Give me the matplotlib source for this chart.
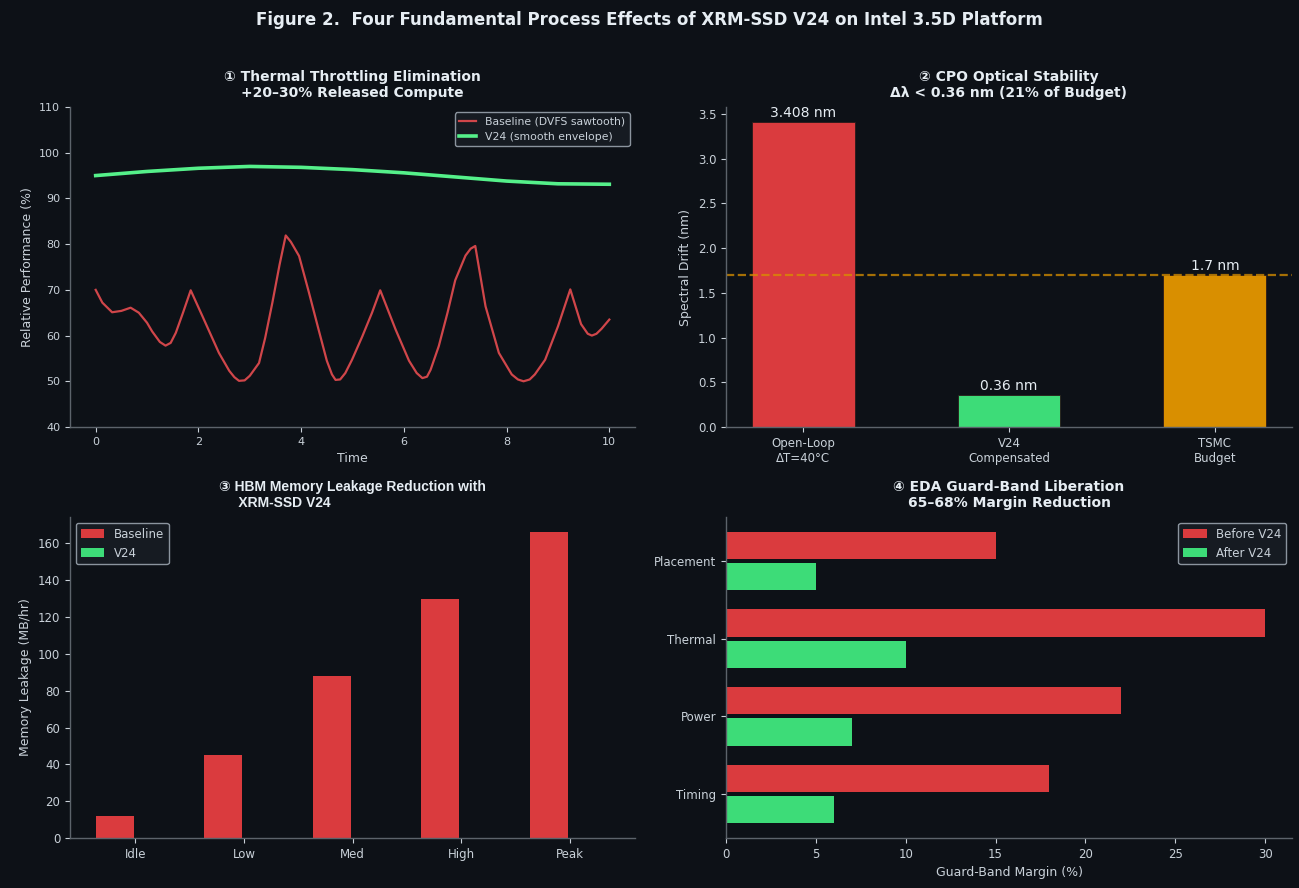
import matplotlib
matplotlib.use("Agg")
import matplotlib.pyplot as plt
import numpy as np

# ---------------- data ----------------
time_base = [0, 0.13, 0.32, 0.5, 0.68, 0.84, 1.0, 1.10, 1.25, 1.36, 1.46, 1.56, 1.70, 1.85,
             2.08, 2.40, 2.60, 2.70, 2.79, 2.90, 3.0, 3.18, 3.30, 3.44, 3.58, 3.70, 3.80,
             3.96, 4.15, 4.34, 4.50, 4.60, 4.67, 4.76, 4.86, 4.99, 5.19, 5.38, 5.54, 5.84,
             6.10, 6.25, 6.36, 6.45, 6.52, 6.68, 6.85, 7.00, 7.20, 7.30, 7.39, 7.59, 7.85,
             8.10, 8.22, 8.33, 8.45, 8.55, 8.75, 9.0, 9.24, 9.45, 9.58, 9.66, 9.75, 9.85, 10.0]
perf_base = [70.0, 67.2, 65.1, 65.4, 66.1, 65.0, 62.8, 60.9, 58.6, 57.8, 58.4, 60.6, 65.0, 69.9,
             64.2, 56.2, 52.3, 50.9, 50.1, 50.2, 51.2, 54.0, 59.5, 67.2, 75.5, 81.9, 80.5,
             77.4, 69.5, 61.3, 54.5, 51.5, 50.3, 50.4, 51.8, 54.7, 59.8, 65.0, 69.9, 61.3,
             54.5, 51.8, 50.7, 51.0, 52.5, 57.7, 65.0, 72.1, 77.5, 79.0, 79.6, 66.4, 56.2,
             51.5, 50.4, 50.0, 50.4, 51.5, 54.7, 62.0, 70.1, 62.5, 60.4, 60.0, 60.4, 61.5, 63.5]
time_v24 = [0, 1, 2, 3, 4, 5, 6, 7, 8, 9, 10]
perf_v24 = [95.0, 95.9, 96.6, 97.0, 96.8, 96.3, 95.6, 94.7, 93.8, 93.2, 93.1]

cpo_labels = ["Open-Loop\nΔT=40°C", "V24\nCompensated", "TSMC\nBudget"]
cpo_values = [3.408, 0.36, 1.7]
cpo_text = ["3.408 nm", "0.36 nm", "1.7 nm"]
budget_line = 1.7

hbm_loads = ["Idle", "Low", "Med", "High", "Peak"]
hbm_baseline = [12, 45, 88, 130, 166]
hbm_v24 = [0, 0, 0, 0, 0]

eda_cats = ["Timing", "Power", "Thermal", "Placement"]
eda_before = [18, 22, 30, 15]
eda_after = [6, 7, 10, 5]

# ---------------- style ----------------
BG = "#0d1117"
TXT = "#e6edf3"
TICK = "#c9d1d9"
SPINE = "#5c636b"
RED = "#da3b3e"
GREEN = "#3ddc78"
ORANGE = "#d98f00"
LINE_RED = "#d0464a"
LINE_GREEN = "#55f08a"

plt.rcParams["font.family"] = ["DejaVu Sans"]

W, H = 1299, 888
fig = plt.figure(figsize=(W / 100, H / 100), dpi=100, facecolor=BG)


def add_ax(x0, y0, x1, y1):
    return fig.add_axes([x0 / W, 1 - y1 / H, (x1 - x0) / W, (y1 - y0) / H])


def style(ax):
    ax.set_facecolor(BG)
    for s in ("top", "right"):
        ax.spines[s].set_visible(False)
    for s in ("left", "bottom"):
        ax.spines[s].set_color(SPINE)
        ax.spines[s].set_linewidth(1.0)
    ax.tick_params(colors=TICK, labelsize=8.5, length=3.5, width=0.8)


def legend(ax, loc, fs=8.5, hl=2.0):
    lg = ax.legend(loc=loc, fontsize=fs, frameon=True, facecolor="#161b22",
                   edgecolor="#8b949e", framealpha=1.0, labelcolor=TICK,
                   borderpad=0.4, handlelength=hl)
    lg.get_frame().set_linewidth(1.0)
    return lg


fig.text(0.5, 1 - 20 / H,
         "Figure 2.  Four Fundamental Process Effects of XRM-SSD V24 on Intel 3.5D Platform",
         ha="center", va="center", color=TXT, fontsize=12, fontweight="bold")

title_kw = dict(color=TXT, fontsize=10, fontweight="bold", pad=7, linespacing=1.2)

# ---- Panel 1 ----
ax1 = add_ax(70, 107, 635, 427)
style(ax1)
ax1.plot(time_base, perf_base, color=LINE_RED, lw=1.6, label="Baseline (DVFS sawtooth)")
ax1.plot(time_v24, perf_v24, color=LINE_GREEN, lw=2.6, label="V24 (smooth envelope)")
ax1.set_ylim(40, 110)
ax1.set_xticks([0, 2, 4, 6, 8, 10])
ax1.set_xlabel("Time", color=TICK, fontsize=9)
ax1.set_ylabel("Relative Performance (%)", color=TICK, fontsize=9)
ax1.set_title("① Thermal Throttling Elimination\n+20–30% Released Compute", **title_kw)
legend(ax1, "upper right", fs=7.8, hl=1.6)
ax1.tick_params(labelsize=8)

# ---- Panel 2 ----
ax2 = add_ax(726, 107, 1292, 427)
style(ax2)
xpos = np.arange(len(cpo_values))
bars = ax2.bar(xpos, cpo_values, width=0.5, color=[RED, GREEN, ORANGE],
               edgecolor="#2a1a1a", linewidth=0.6)
for b, t in zip(bars, cpo_text):
    ax2.text(b.get_x() + b.get_width() / 2, b.get_height() + 0.02, t,
             ha="center", va="bottom", color=TXT, fontsize=10)
ax2.axhline(budget_line, color=ORANGE, lw=1.6, ls="--", alpha=0.75)
ax2.set_xticks(xpos)
ax2.set_xticklabels(cpo_labels)
ax2.set_ylabel("Spectral Drift (nm)", color=TICK, fontsize=9)
ax2.set_yticks(np.arange(0, 3.6, 0.5))
ax2.set_title("② CPO Optical Stability\nΔλ < 0.36 nm (21% of Budget)", **title_kw)

# ---- Panel 3 ----
ax3 = add_ax(70, 517, 635, 838)
style(ax3)
xh = np.arange(len(hbm_loads))
ax3.bar(xh - 0.19, hbm_baseline, width=0.35, color=RED, label="Baseline")
ax3.bar(xh + 0.19, hbm_v24, width=0.35, color=GREEN, label="V24")
ax3.set_xticks(xh)
ax3.set_xticklabels(hbm_loads)
ax3.set_yticks(np.arange(0, 161, 20))
ax3.set_ylabel("Memory Leakage (MB/hr)", color=TICK, fontsize=9)
ax3.set_title("③ HBM Memory Leakage Reduction with\n     XRM-SSD V24",
              color=TXT, fontsize=10, fontweight="bold", pad=7, linespacing=1.2,
              family=["Liberation Sans", "DejaVu Sans"], multialignment="left")
legend(ax3, "upper left")

# ---- Panel 4 ----
ax4 = add_ax(726, 517, 1292, 838)
style(ax4)
yh = np.arange(len(eda_cats))
ax4.barh(yh + 0.2, eda_before, height=0.35, color=RED, label="Before V24")
ax4.barh(yh - 0.2, eda_after, height=0.35, color=GREEN, label="After V24")
ax4.set_yticks(yh)
ax4.set_yticklabels(eda_cats)
ax4.set_xlabel("Guard-Band Margin (%)", color=TICK, fontsize=9)
ax4.set_title("④ EDA Guard-Band Liberation\n65–68% Margin Reduction", **title_kw)
legend(ax4, "upper right")

for ax in (ax1, ax2, ax3, ax4):
    for t in ax.get_xticklabels() + ax.get_yticklabels():
        t.set_color(TICK)

fig.savefig("out.png", dpi=100, facecolor=BG)
